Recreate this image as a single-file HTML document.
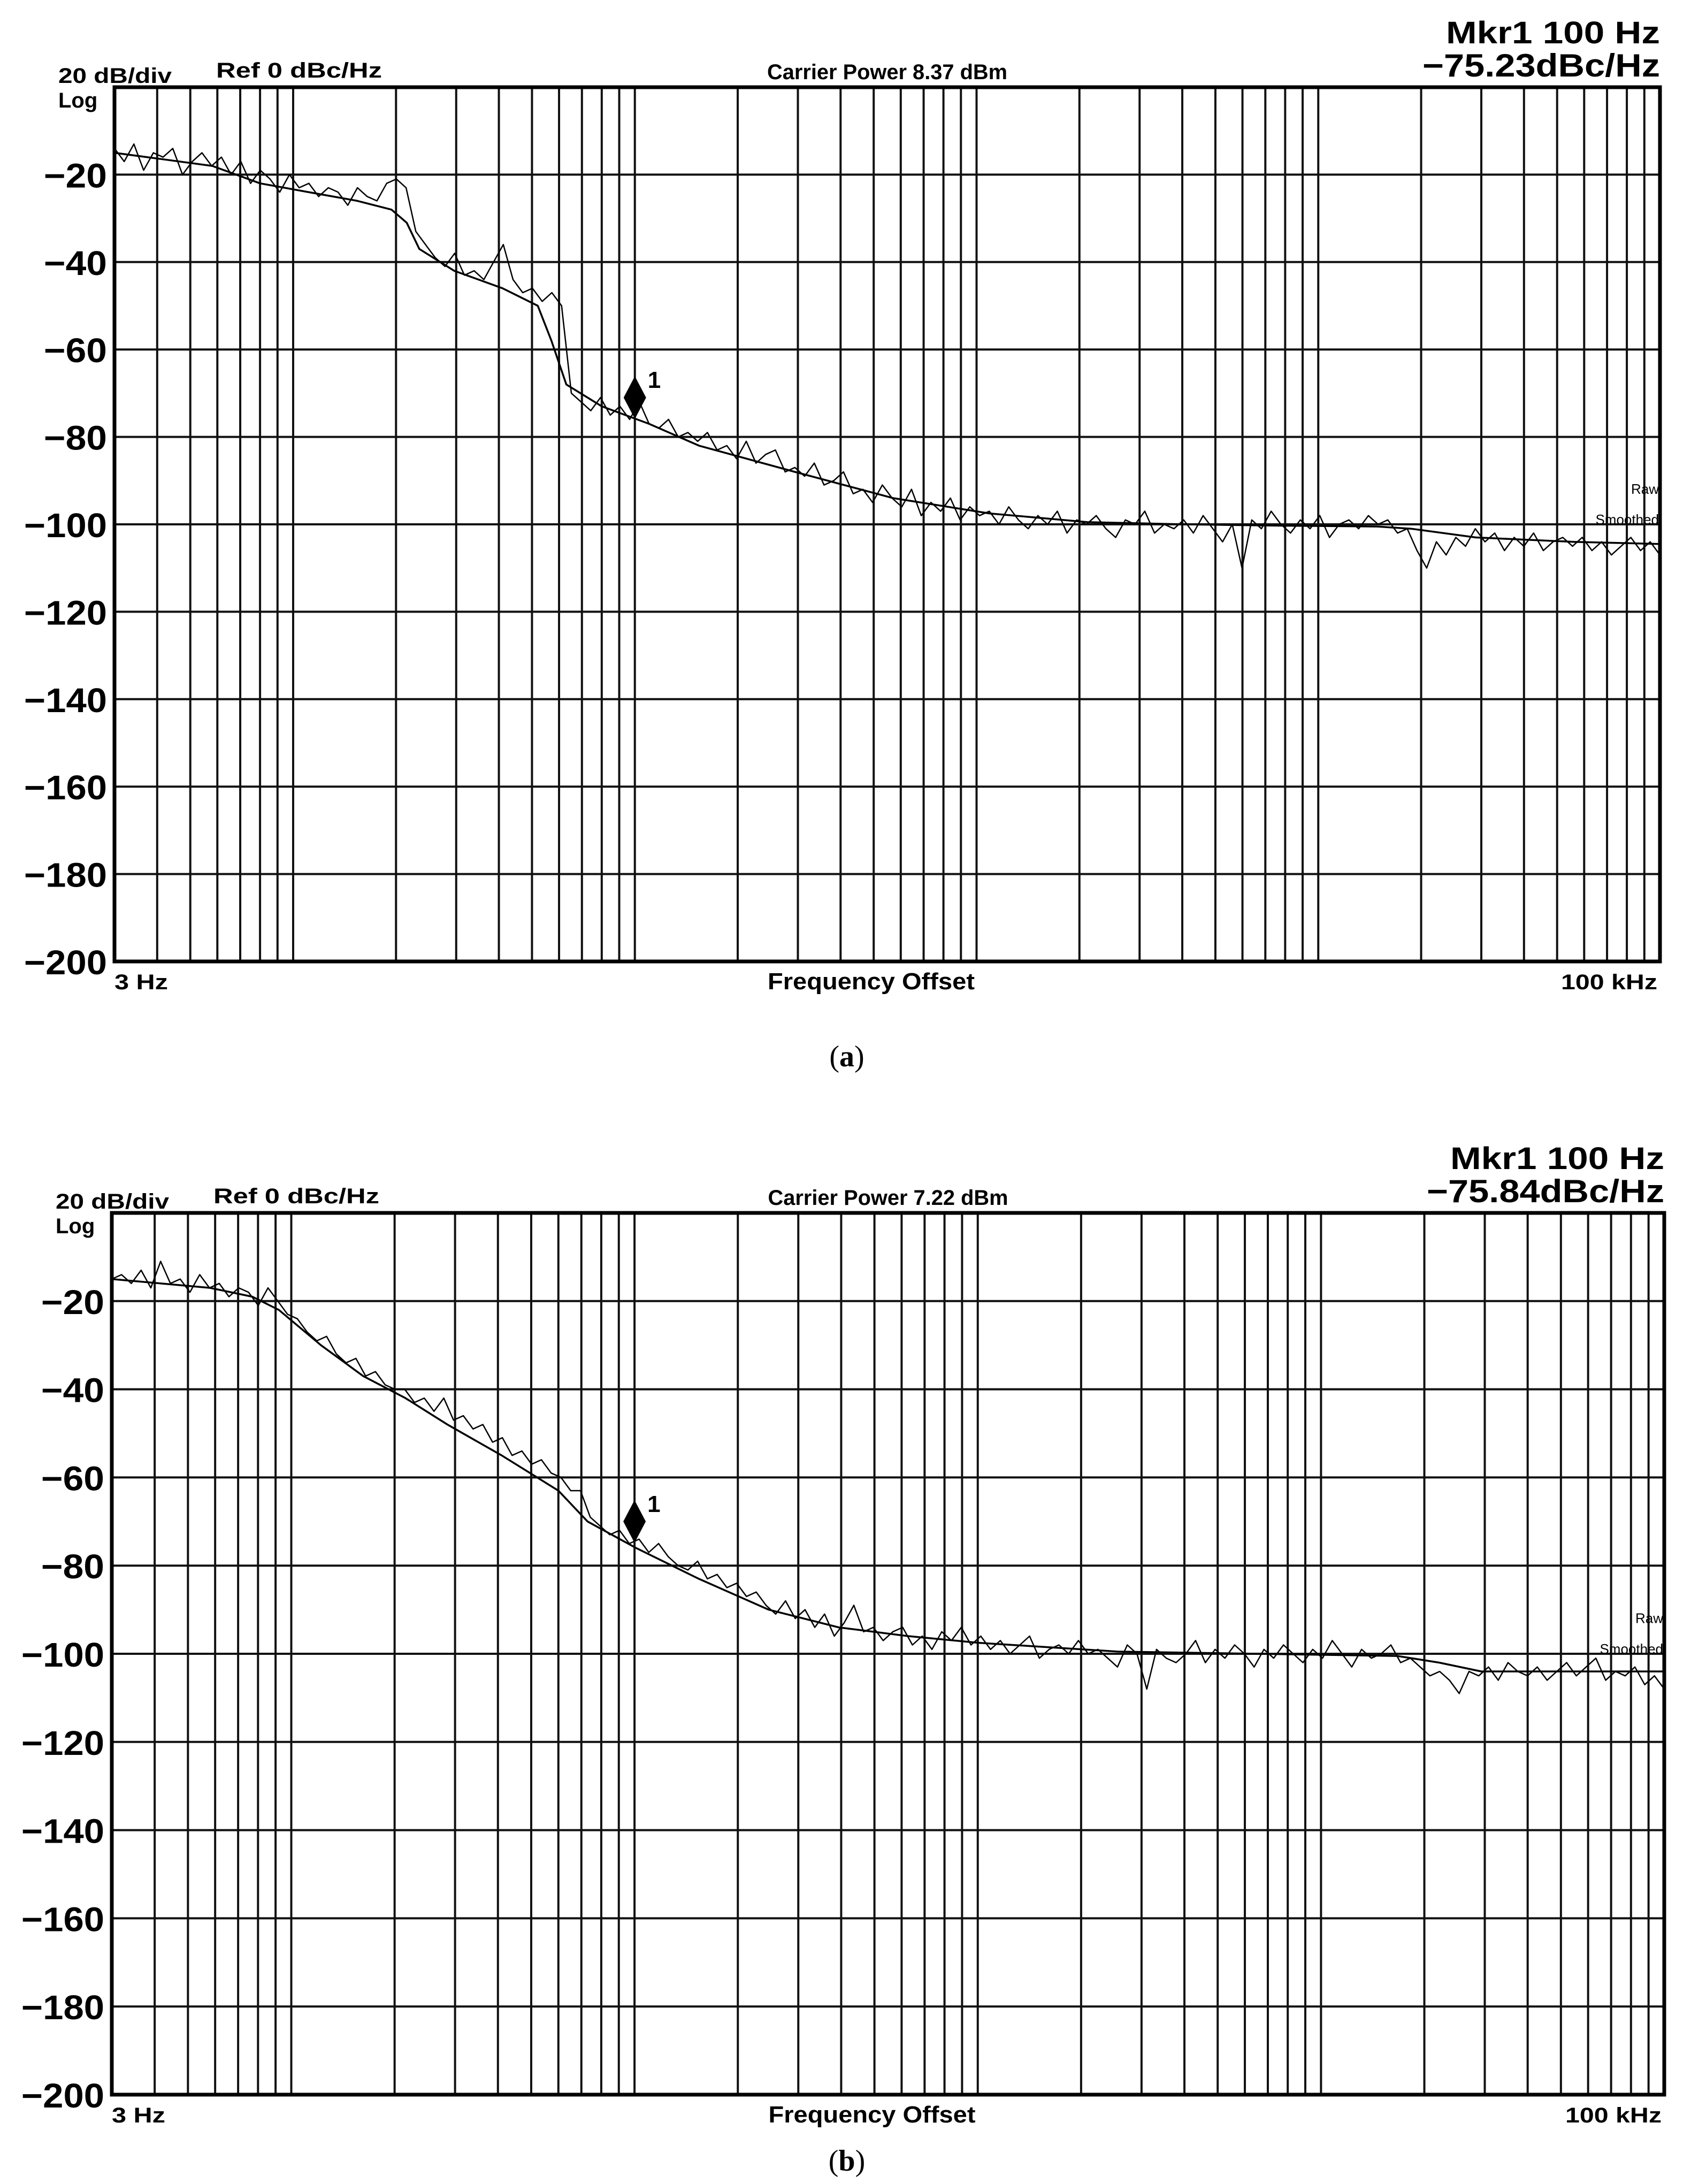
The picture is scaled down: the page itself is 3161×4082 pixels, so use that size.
<!DOCTYPE html>
<html><head><meta charset="utf-8">
<style>
html,body{margin:0;padding:0;background:#fff;}
svg{display:block;}
text{font-family:"Liberation Sans",Arial,sans-serif;fill:#000;}
</style></head>
<body>
<svg id="fig" width="3161" height="4082" viewBox="0 0 3161 4082" xmlns="http://www.w3.org/2000/svg">
<rect width="3161" height="4082" fill="#fff"/>
<text x="1583" y="1993" font-size="56" text-anchor="middle" style="font-family:'Liberation Serif',serif">(<tspan font-weight="bold">a</tspan>)</text>
<text x="1583" y="4057" font-size="56" text-anchor="middle" style="font-family:'Liberation Serif',serif">(<tspan font-weight="bold">b</tspan>)</text>
</svg>
<script>
// ---- Chart (a) data ----
const yTicks = [-20,-40,-60,-80,-100,-120,-140,-160,-180,-200];
const rawA = [-14,-17,-13,-19,-15,-16,-14,-20,-17,-15,
-18,-16,-20,-17,-22,-19,-21,-24,-20,-23,
-22,-25,-23,-24,-27,-23,-25,-26,-22,-21,
-23,-33,-36,-39,-41,-38,-43,-42,-44,-40,
-36,-44,-47,-46,-49,-47,-50,-70,-72,-74,
-71,-75,-73,-76,-72,-77,-78,-76,-80,-79,
-81,-79,-83,-82,-85,-81,-86,-84,-83,-88,
-87,-89,-86,-91,-90,-88,-93,-92,-95,-91,
-94,-96,-92,-98,-95,-97,-94,-99,-96,-98,
-97,-100,-96,-99,-101,-98,-100,-97,-102,-99,
-100,-98,-101,-103,-99,-100,-97,-102,-100,-101,
-99,-102,-98,-101,-104,-100,-110,-99,-101,-97,
-100,-102,-99,-101,-98,-103,-100,-99,-101,-98,
-100,-99,-102,-101,-106,-110,-104,-107,-103,-105,
-101,-104,-102,-106,-103,-105,-102,-106,-104,-103,
-105,-103,-106,-104,-107,-105,-103,-106,-104,-107];
const smoothFreqA = [3,4.17,5.8,8,11.1,15.4,19.4,21.5,23.4,29.6,41,52,57,63,80,110,154,294,570,1090,2110,4040,7800,14900,18700,28900,55800,100000];
const smoothDbA = [-15,-16.5,-18,-22,-24,-26,-28,-31,-37,-42,-46,-50,-58,-68,-73,-77,-82,-88,-94,-97.5,-99.5,-100,-100.3,-100.5,-101,-103,-104,-104.5];
// ---- Chart (b) data ----
const rawB = [-15,-14,-16,-13,-17,-11,-16,-15,-18,-14,
-17,-16,-19,-17,-18,-21,-17,-20,-23,-24,
-27,-29,-28,-32,-34,-33,-37,-36,-39,-40,
-40,-43,-42,-45,-42,-47,-46,-49,-48,-52,
-51,-55,-54,-57,-56,-59,-60,-63,-63,-69,
-71,-73,-72,-75,-74,-77,-75,-78,-80,-81,
-79,-83,-82,-85,-84,-87,-86,-89,-91,-88,
-92,-90,-94,-91,-96,-93,-89,-95,-94,-97,
-95,-94,-98,-96,-99,-95,-97,-94,-98,-96,
-99,-97,-100,-98,-96,-101,-99,-98,-100,-97,
-100,-99,-101,-103,-98,-100,-108,-99,-101,-102,
-100,-97,-102,-99,-101,-98,-100,-103,-99,-101,
-98,-100,-102,-99,-101,-97,-100,-103,-99,-101,
-100,-98,-102,-101,-103,-105,-104,-106,-109,-104,
-105,-103,-106,-102,-104,-105,-103,-106,-104,-102,
-105,-103,-101,-106,-104,-105,-103,-107,-105,-108];
const smoothFreqB = [3,5.8,7.7,9.2,12.2,16.2,21.5,28.5,41,60,73,101,154,246,393,628,1000,2560,6550,16700,22100,29300,100000];
const smoothDbB = [-15,-17,-19,-22,-30,-37,-42,-48,-55,-63,-70,-76,-83,-90,-94,-96,-97.5,-99.5,-100,-100.5,-102,-104,-104];
const gridFreqs = [4,5,6,7,8,9,10,20,30,40,50,60,70,80,90,100,200,300,400,500,600,700,800,900,1000,2000,3000,4000,5000,6000,7000,8000,9000,10000,20000,30000,40000,50000,60000,70000,80000,90000];
const markerFreq = 100;
const markerDbA = -71, markerDbB = -70;

const NS='http://www.w3.org/2000/svg';
const fig=document.getElementById('fig');
function mk(tag,attrs,parent){const e=document.createElementNS(NS,tag);for(const k in attrs)e.setAttribute(k,attrs[k]);(parent||fig).appendChild(e);return e;}

function drawChart(id,L,R,T,B,raw,sf,sd,mDb,carrier,mkrVal){
  const g=mk('g',{});
  
  
  const fmin=3,fmax=100000;
  const xs=f=>L+(Math.log10(f/fmin)/Math.log10(fmax/fmin))*(R-L);
  const ys=d=>T+(-d/200)*(B-T);
  gridFreqs.forEach(f=>{const l=mk('line',{x1:xs(f),x2:xs(f),y1:T,y2:B,stroke:'#111','stroke-width':4},g);
    
    });
  yTicks.forEach(v=>{const l=mk('line',{x1:L,x2:R,y1:ys(v),y2:ys(v),stroke:'#111','stroke-width':4},g);
    
    
    const s='\u2212'+Math.abs(v);
    const t=mk('text',{x:L-14,y:ys(v)+24,'font-size':64,'font-weight':'bold','text-anchor':'end',textLength:(s.length===4?155:118),lengthAdjust:'spacingAndGlyphs'},g);
    t.textContent=s;
    
    });
  const bd=mk('rect',{x:L,y:T,width:R-L,height:B-T,fill:'none',stroke:'#000','stroke-width':7},g);
  
  
  const n=raw.length;
  const rp=raw.map((d,i)=>{const f=fmin*Math.pow(fmax/fmin,i/(n-1));return xs(f).toFixed(1)+','+ys(d).toFixed(1);}).join(' ');
  const r=mk('polyline',{points:rp,fill:'none',stroke:'#000','stroke-width':2.5,'stroke-linejoin':'round'},g);
  
  
  const sp=sf.map((f,i)=>xs(f).toFixed(1)+','+ys(sd[i]).toFixed(1)).join(' ');
  const s=mk('polyline',{points:sp,fill:'none',stroke:'#000','stroke-width':3.5,'stroke-linejoin':'round'},g);
  
  
  const mx=xs(markerFreq),my=ys(mDb);
  const dm=mk('polygon',{points:`${mx},${my-40} ${mx+21},${my} ${mx},${my+40} ${mx-21},${my}`,fill:'#000'},g);
  
  
  const ml=mk('text',{x:mx+24,y:my-18,'font-size':44,'font-weight':'bold'},g);ml.textContent='1';
  
  
  const txt=(s,x,y,size,anchor,bold,name,len)=>{const a={x:x,y:y,'font-size':size,'text-anchor':anchor,'font-weight':bold?'bold':'normal'};
    if(len){a.textLength=len;a.lengthAdjust='spacingAndGlyphs';}
    const t=mk('text',a,g);t.textContent=s;
    
    return t;};
  txt('20 dB/div',L-105,T-8,40,'start',true,'scale-label',212);
  txt('Log',L-105,T+38,40,'start',true,'log-label');
  txt('Ref  0 dBc/Hz',L+190,T-18,40,'start',true,'ref-label',310);
  txt('Carrier Power '+carrier+' dBm',(L+R)/2,T-15,40,'middle',true,'carrier-power',449);
  txt('Mkr1 100 Hz',R,T-82,58,'end',true,'marker-frequency',400);
  txt('\u2212'+mkrVal+'dBc/Hz',R,T-20,60,'end',true,'marker-value',444);
  txt('3 Hz',L,B+52,40,'start',true,'x-start-label',100);
  txt('Frequency Offset',(L+R)/2-30,B+52,44,'middle',true,'x-axis-title',387);
  txt('100 kHz',R-5,B+52,40,'end',true,'x-end-label',180);
  txt('Raw',R-2,ys(-93),26,'end',false,'legend-raw');
  txt('Smoothed',R-2,ys(-100),26,'end',false,'legend-smoothed');
}
drawChart('a',214,3103,163,1797,rawA,smoothFreqA,smoothDbA,markerDbA,'8.37','75.23');
drawChart('b',209,3111,2267,3915,rawB,smoothFreqB,smoothDbB,markerDbB,'7.22','75.84');
</script>
</body></html>
